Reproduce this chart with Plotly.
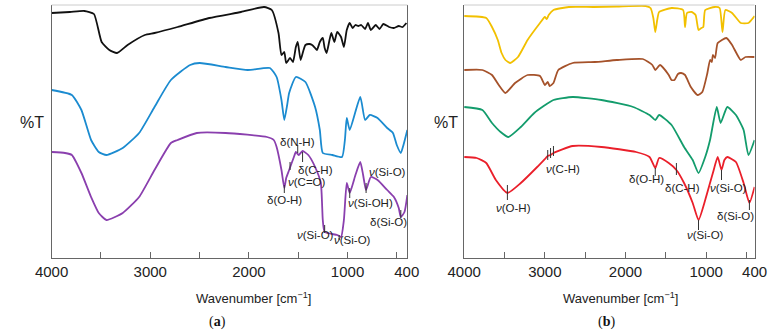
import plotly.graph_objects as go

# ---------------- Panel (a) data (wavenumber cm-1, relative %T) ----------------
a_black_wn = [4000, 3815, 3669, 3571, 3493, 3415, 3337, 3230, 3055, 2957, 2723, 2401, 2080, 1846, 1768,
              1700, 1670, 1641, 1622, 1583, 1553, 1524, 1505, 1476, 1446, 1427, 1388, 1359, 1329, 1310,
              1281, 1251, 1232, 1212, 1183, 1164, 1134, 1105, 1066, 1037, 1008, 978, 949, 920, 891, 861,
              822, 793, 764, 715, 676, 637, 579, 530, 481, 442, 403]
a_black_t = [245, 246, 247, 244, 216, 208, 205, 213, 223, 225, 231, 240, 246, 251, 248,
             225, 203, 206, 195, 200, 196, 211, 216, 198, 208, 213, 214, 213, 210, 208,
             216, 220, 210, 205, 218, 225, 216, 226, 221, 211, 228, 235, 230, 233, 232, 233,
             229, 235, 228, 233, 229, 234, 231, 230, 232, 231, 235]

a_blue_wn = [4000, 3795, 3698, 3600, 3522, 3444, 3279, 3113, 2957, 2791, 2596, 2499, 2236, 2012, 1787,
             1719, 1670, 1641, 1612, 1592, 1524, 1427, 1329, 1281, 1251, 1154, 1056, 1027, 1008, 978,
             871, 822, 774, 696, 598, 540, 501, 460, 433, 394]
a_blue_t = [168, 163, 148, 118, 106, 103, 110, 125, 151, 178, 193, 195, 191, 188, 190,
            181, 158, 138, 153, 165, 181, 176, 151, 128, 105, 103, 101, 118, 140, 128,
            161, 138, 143, 140, 130, 125, 113, 105, 113, 128]

a_purple_wn = [4000, 3864, 3795, 3698, 3600, 3522, 3444, 3279, 3113, 2957, 2791, 2723, 2528, 2236, 1817,
               1748, 1719, 1670, 1641, 1622, 1592, 1544, 1524, 1495, 1456, 1398, 1329, 1271, 1251, 1232,
               1105, 1066, 1037, 1008, 978, 920, 871, 842, 813, 764, 696, 598, 530, 481, 460, 423, 394]
a_purple_t = [106, 105, 103, 85, 61, 45, 38, 45, 61, 88, 115, 118, 125, 125, 121,
              118, 111, 88, 70, 80, 88, 101, 106, 103, 107, 103, 91, 75, 38, 26,
              23, 21, 38, 75, 65, 83, 96, 83, 68, 81, 78, 68, 61, 50, 41, 46, 63]

a_labels = ["δ(N-H)", "δ(C-H)", "<i>ν</i>(C=O)", "δ(O-H)", "<i>ν</i>(Si-O)", "<i>ν</i>(Si-O)",
            "<i>ν</i>(Si-OH)", "<i>ν</i>(Si-O)", "δ(Si-O)"]
a_label_wn = [1505, 1320, 1407, 1641, 1320, 949, 764, 598, 588]
a_label_t = [116, 88, 76, 58, 23, 18, 55, 86, 36]
a_band_wn = [1505, 1456, 1583, 1641, 1232, 1085, 978, 812, 460]
a_band_lo = [105, 96, 88, 65, 25, 18, 60, 65, 40]
a_band_hi = [113, 106, 96, 73, 33, 23, 70, 75, 48]

# ---------------- Panel (b) data ----------------
b_yellow_wn = [4000, 3726, 3655, 3583, 3536, 3488, 3429, 3333, 3214, 3060, 3000, 2976, 2952, 2893, 2702,
               2393, 2107, 1750, 1690, 1655, 1631, 1607, 1583, 1429, 1286, 1262, 1238, 1179, 1131, 1095,
               1060, 1036, 1012, 893, 833, 798, 762, 679, 571, 476, 440, 400]
b_yellow_t = [242, 240, 231, 218, 205, 198, 195, 201, 218, 235, 241, 239, 243, 248, 251,
              251, 251.5, 252, 250, 240, 226, 238, 246, 250, 248, 231, 245, 246, 243, 228,
              230, 231, 248, 251, 250, 226, 248, 245, 235, 235, 238, 242]

b_brown_wn = [4000, 3774, 3655, 3571, 3488, 3369, 3214, 3060, 3000, 2964, 2940, 2893, 2833, 2655, 2381,
              2107, 1786, 1667, 1631, 1571, 1464, 1430, 1393, 1350, 1310, 1262, 1190, 1107, 1048, 985,
              952, 930, 917, 890, 857, 750, 679, 571, 512, 400]
b_brown_t = [188, 188, 183, 173, 165, 175, 183, 182, 173, 176, 172, 175, 188, 195, 196,
             198, 199, 193, 188, 193, 183, 178, 178, 184, 185, 183, 171, 163, 166, 185,
             198, 196, 203, 200, 215, 220, 213, 198, 201, 201]

b_green_wn = [4000, 3774, 3655, 3548, 3452, 3298, 3131, 2893, 2655, 2298, 1905, 1702, 1631, 1583, 1429,
              1274, 1167, 1095, 1012, 952, 869, 821, 738, 631, 536, 476, 400]
b_green_t = [151, 148, 135, 126, 121, 131, 145, 158, 161, 158, 151, 143, 138, 143, 133,
             111, 98, 85, 101, 118, 151, 135, 151, 143, 128, 103, 118]

b_red_wn = [4000, 3845, 3726, 3607, 3464, 3298, 3095, 2988, 2964, 2929, 2893, 2655, 2298, 1869, 1702,
            1631, 1583, 1464, 1369, 1274, 1167, 1095, 1012, 917, 857, 810, 774, 738, 631, 536, 464, 400]
b_red_t = [101, 100, 95, 78, 65, 75, 91, 100, 102, 103, 105, 112, 111, 106, 101,
           90, 100, 95, 88, 75, 55, 38, 58, 85, 101, 88, 98, 101, 96, 75, 55, 71]

b_labels = ["<i>ν</i>(O-H)", "<i>ν</i>(C-H)", "δ(O-H)", "δ(C-H)", "<i>ν</i>(Si-O)", "δ(Si-O)",
            "<i>ν</i>(Si-O)"]
b_label_wn = [3393, 2774, 1738, 1298, 726, 631, 1012]
b_label_t = [50, 89, 79, 70, 70, 42, 23]
b_band_wn = [3464, 2964, 2929, 2893, 1631, 1369, 810, 464, 1095]
b_band_lo = [58, 98, 100, 102, 82, 83, 78, 48, 28]
b_band_hi = [73, 108, 110, 112, 90, 95, 88, 58, 38]

x_tickvals = [4000, 3000, 2000, 1000, 400]
x_ticktext = ["4000", "3000", "2000", "1000", "400"]
x_minor = [3500, 3000, 2500, 2000, 1500, 1000, 500]

COL = dict(black="#111111", blue="#1b8bd0", purple="#8a3fae",
           yellow="#f2c000", brown="#a5522a", green="#139c6c", red="#ea1f2a")

W, H = 782, 332
fig = go.Figure()

def line(x, y, c, xa, ya):
    fig.add_trace(go.Scatter(x=x, y=y, mode="lines", line=dict(color=c, width=1.8, shape="spline", smoothing=0.5),
                             xaxis=xa, yaxis=ya, showlegend=False, hoverinfo="skip"))

line(a_black_wn, a_black_t, COL["black"], "x", "y")
line(a_blue_wn, a_blue_t, COL["blue"], "x", "y")
line(a_purple_wn, a_purple_t, COL["purple"], "x", "y")
line(b_yellow_wn, b_yellow_t, COL["yellow"], "x2", "y2")
line(b_brown_wn, b_brown_t, COL["brown"], "x2", "y2")
line(b_green_wn, b_green_t, COL["green"], "x2", "y2")
line(b_red_wn, b_red_t, COL["red"], "x2", "y2")

def bands(wn, lo, hi, xa, ya):
    xs, ys = [], []
    for w, l, h in zip(wn, lo, hi):
        xs += [w, w, None]
        ys += [l, h, None]
    fig.add_trace(go.Scatter(x=xs, y=ys, mode="lines", line=dict(color="#333333", width=1),
                             xaxis=xa, yaxis=ya, showlegend=False, hoverinfo="skip"))

bands(a_band_wn, a_band_lo, a_band_hi, "x", "y")
bands(b_band_wn, b_band_lo, b_band_hi, "x2", "y2")

for lab, w, t in zip(a_labels, a_label_wn, a_label_t):
    fig.add_annotation(x=w, y=t, xref="x", yref="y", text=lab, showarrow=False,
                       xanchor="center", yanchor="middle",
                       font=dict(family="Liberation Sans, Arial", size=11.5, color="#222"))
for lab, w, t in zip(b_labels, b_label_wn, b_label_t):
    fig.add_annotation(x=w, y=t, xref="x2", yref="y2", text=lab, showarrow=False,
                       xanchor="center", yanchor="middle",
                       font=dict(family="Liberation Sans, Arial", size=11.5, color="#222"))

ydom = [1 - 258 / H, 1 - 5 / H]
xa_common = dict(autorange=False, showgrid=False, zeroline=False, showline=True, linecolor="#666",
                 linewidth=1, tickmode="array", tickvals=x_tickvals, ticktext=x_ticktext, ticks="",
                 tickfont=dict(family="Liberation Sans, Arial", size=15, color="#222"),
                 minor=dict(tickmode="array", tickvals=x_minor, ticks="inside", ticklen=6,
                            tickcolor="#666", tickwidth=1, showgrid=False))
ya_common = dict(range=[0, 253], showgrid=False, zeroline=False, showticklabels=False, ticks="",
                 showline=True, linecolor="#666", linewidth=1, mirror=True)

fig.update_layout(
    width=W, height=H, margin=dict(l=0, r=0, t=0, b=0),
    paper_bgcolor="white", plot_bgcolor="white",
    xaxis=dict(domain=[36 / W, 406 / W], range=[4000, 393], anchor="y", **xa_common),
    yaxis=dict(domain=ydom, anchor="x", **ya_common),
    xaxis2=dict(domain=[465 / W, 767 / W], range=[4000, 400], anchor="y2", **xa_common),
    yaxis2=dict(domain=ydom, anchor="x2", **ya_common),
)

# top borders (light grey)
for xr, yr in [("x domain", "y domain"), ("x2 domain", "y2 domain")]:
    fig.add_shape(type="line", xref=xr, yref=yr, x0=0, x1=1, y0=1, y1=1,
                  line=dict(color="#cccccc", width=1))

# %T labels, axis titles and panel captions
for xc in [16, 446]:
    fig.add_annotation(x=xc / W, y=1 - 122 / H, xref="paper", yref="paper", text="%T", showarrow=False,
                       xanchor="center", yanchor="middle",
                       font=dict(family="Liberation Sans, Arial", size=16, color="#222"))
for xc in [246, 628]:
    fig.add_annotation(x=xc / W, y=1 - 298 / H, xref="paper", yref="paper",
                       text="Wavenumber [cm<sup>−1</sup>]", showarrow=False,
                       xanchor="center", yanchor="middle",
                       font=dict(family="Liberation Sans, Arial", size=13, color="#222"))
for xc, cap in [(208, "a"), (613, "b")]:
    fig.add_annotation(x=xc / W, y=1 - 322 / H, xref="paper", yref="paper",
                       text="(<b>%s</b>)" % cap, showarrow=False,
                       xanchor="center", yanchor="middle",
                       font=dict(family="Liberation Serif, Times New Roman", size=14, color="#111"))

fig.write_html("out.html", config={"displayModeBar": False},
               post_script="document.body.style.margin='0';document.body.style.padding='0';")
